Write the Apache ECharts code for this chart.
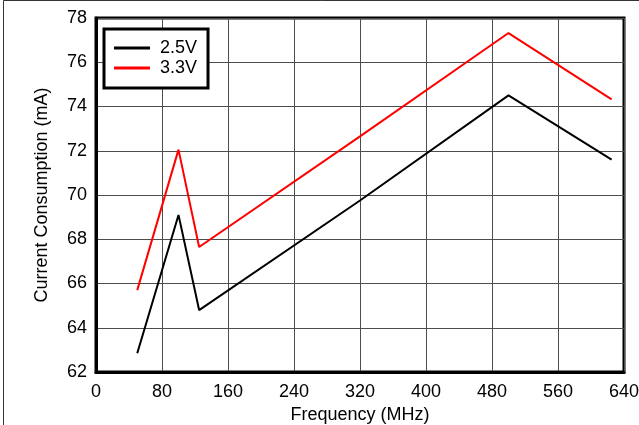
<!DOCTYPE html>
<html>
<head>
<meta charset="utf-8">
<script src="https://cdn.jsdelivr.net/npm/echarts@6/dist/echarts.min.js"></script>
<style>
  html, body { margin: 0; padding: 0; background: #fff; }
  #chart { width: 639px; height: 425px; }
</style>
</head>
<body>
<div id="chart"></div>
<script>
// frequency in MHz
const freq = [50, 100, 125, 320, 500, 625];
const v25 = [62.85, 69.1, 64.8, 69.75, 74.5, 71.6];
const v33 = [65.7, 72.05, 67.65, 72.65, 77.32, 74.32];
const seriesNames = ['2.5V', '3.3V'];
const xTicks = { min: 0, max: 640, step: 80 };
const yTicks = { min: 62, max: 78, step: 2 };

const font = '"Liberation Sans", Arial, sans-serif';

const chartDom = document.getElementById('chart');
const myChart = echarts.init(chartDom);

const pairs = (ys) => freq.map((f, i) => [f, ys[i]]);

const option = {
  backgroundColor: '#fff',
  animation: false,
  textStyle: { fontFamily: font },
  grid: {
    left: 96,
    right: 15,
    top: 18,
    bottom: 53,
    outerBoundsMode: 'none',
    containLabel: false,
    show: true,
    borderColor: '#000',
    borderWidth: 3
  },
  legend: {
    data: seriesNames,
    orient: 'vertical',
    left: 104,
    top: 29,
    backgroundColor: '#fff',
    borderColor: '#000',
    borderWidth: 3,
    borderRadius: 0,
    padding: [10, 11, 11, 10],
    itemGap: 2,
    itemWidth: 36,
    itemHeight: 3,
    icon: 'rect',
    textStyle: { fontSize: 18, color: '#000', fontFamily: font, padding: [0, 0, 0, 5] }
  },
  xAxis: {
    type: 'value',
    min: xTicks.min,
    max: xTicks.max,
    interval: xTicks.step,
    name: 'Frequency (MHz)',
    nameLocation: 'middle',
    nameGap: 31,
    nameTextStyle: { fontSize: 18, color: '#000', fontFamily: font },
    axisLine: { show: true, lineStyle: { color: '#000', width: 3 } },
    axisTick: { show: false },
    axisLabel: { fontSize: 18, color: '#000', margin: 11, fontFamily: font },
    splitLine: { show: true, lineStyle: { color: '#4d4d4d', width: 1 } }
  },
  yAxis: {
    type: 'value',
    min: yTicks.min,
    max: yTicks.max,
    interval: yTicks.step,
    name: 'Current Consumption (mA)',
    nameLocation: 'middle',
    nameGap: 45,
    nameTextStyle: { fontSize: 18, color: '#000', fontFamily: font },
    axisLine: { show: true, lineStyle: { color: '#000', width: 3 } },
    axisTick: { show: false },
    axisLabel: { fontSize: 18, color: '#000', margin: 9, fontFamily: font },
    splitLine: { show: true, lineStyle: { color: '#4d4d4d', width: 1 } }
  },
  series: [
    {
      name: seriesNames[0],
      type: 'line',
      data: pairs(v25),
      symbol: 'none',
      lineStyle: { color: '#000', width: 2 },
      itemStyle: { color: '#000' }
    },
    {
      name: seriesNames[1],
      type: 'line',
      data: pairs(v33),
      symbol: 'none',
      lineStyle: { color: '#ff0000', width: 2 },
      itemStyle: { color: '#ff0000' }
    }
  ],
  graphic: [
    {
      type: 'polyline',
      silent: true,
      shape: { points: [[3.5, 425], [3.5, 0.5], [639, 0.5]] },
      style: { stroke: '#333', lineWidth: 1, fill: null }
    }
  ]
};

option && myChart.setOption(option);
</script>
</body>
</html>
